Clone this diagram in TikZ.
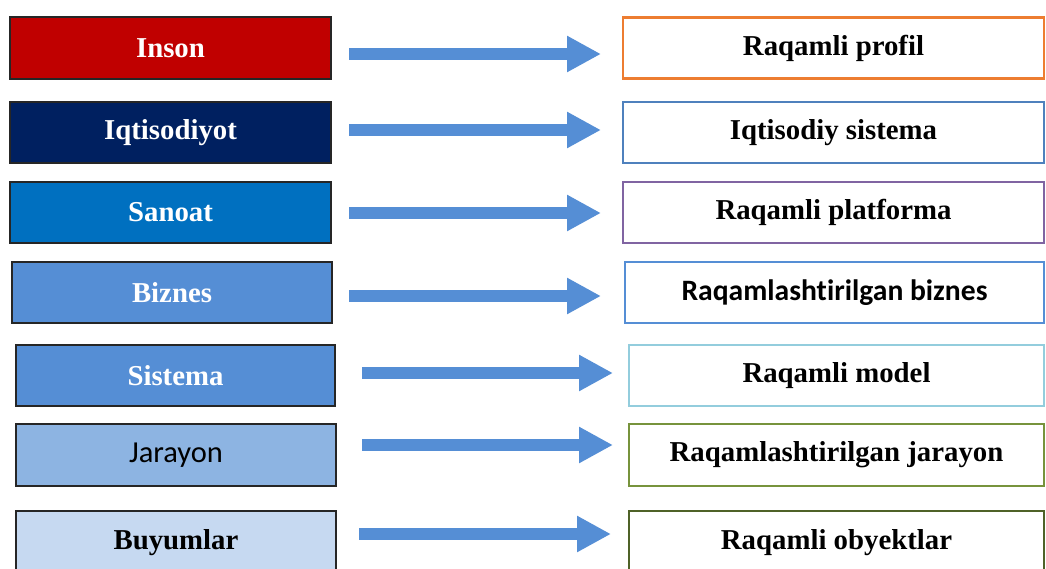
\documentclass[tikz,border=0pt]{standalone}
\usepackage{fontspec}
\setmainfont{Liberation Serif}
\newfontfamily\calibri[Ligatures=NoCommon]{Carlito}
\usetikzlibrary{arrows.meta}
\definecolor{cInson}{HTML}{C00000}
\definecolor{cIqt}{HTML}{002060}
\definecolor{cSan}{HTML}{0070C0}
\definecolor{cBiz}{HTML}{558ED5}
\definecolor{cJar}{HTML}{8DB4E2}
\definecolor{cBuy}{HTML}{C6D9F1}
\definecolor{bOrange}{HTML}{ED7D31}
\definecolor{bBlue}{HTML}{4F81BD}
\definecolor{bPurple}{HTML}{8064A2}
\definecolor{bBlue2}{HTML}{558ED5}
\definecolor{bCyan}{HTML}{93CDDD}
\definecolor{bGreen}{HTML}{77933C}
\definecolor{bDark}{HTML}{4F6228}
\definecolor{arrc}{HTML}{558ED5}
\tikzset{
  lbox/.style={draw=black!85, line width=1.3pt, inner sep=0pt, outer sep=0pt,
    font=\fontsize{28.8}{30}\selectfont\bfseries, text=white},
  rbox/.style={draw, fill=white, line width=2.6pt, inner sep=0pt, outer sep=0pt,
    font=\fontsize{28.8}{30}\selectfont\bfseries, text=black},
  arr/.style={draw=arrc, line width=12pt, -{Triangle[length=34pt,width=34pt]}}
}
\begin{document}
\begin{tikzpicture}[x=1pt,y=-1pt]
\useasboundingbox (0,0) rectangle (1046,568);
\clip (0,0) rectangle (1046,568);
\fill[white] (0,0) rectangle (1046,568);
% left boxes
\node[lbox, fill=cInson, minimum width=321pt, minimum height=62pt] (L1) at (170.5,48) {Inson};
\node[lbox, fill=cIqt, minimum width=321pt, minimum height=61pt] (L2) at (170.5,132.5) {Iqtisodiyot};
\node[lbox, fill=cSan, minimum width=321pt, minimum height=61pt] (L3) at (170.5,212.5) {Sanoat};
\node[lbox, fill=cBiz, minimum width=320pt, minimum height=61pt] (L4) at (172,292.5) {Biznes};
\node[lbox, fill=cBiz, minimum width=319pt, minimum height=61pt] (L5) at (175.5,375.5) {Sistema};
\node[lbox, fill=cJar, minimum width=320pt, minimum height=62pt, text=black, font=\fontsize{30.5}{32}\selectfont\calibri] (L6) at (176,455) {Jarayon};
\node[lbox, fill=cBuy, minimum width=320pt, minimum height=64pt, text=black] (L7) at (176,543) {Buyumlar};
% right boxes
\node[rbox, draw=bOrange, minimum width=421pt, minimum height=61pt] (R1) at (833.5,48) {Raqamli profil};
\node[rbox, draw=bBlue, minimum width=421pt, minimum height=61pt] (R2) at (833.5,132.5) {Iqtisodiy sistema};
\node[rbox, draw=bPurple, minimum width=421pt, minimum height=61pt] (R3) at (833.5,212.5) {Raqamli platforma};
\node[rbox, draw=bBlue2, minimum width=419pt, minimum height=61pt, font=\fontsize{29.6}{31}\selectfont\calibri\bfseries] (R4) at (834.5,292.5) {Raqamlashtirilgan biznes};
\node[rbox, draw=bCyan, minimum width=415pt, minimum height=61pt] (R5) at (836.5,375.5) {Raqamli model};
\node[rbox, draw=bGreen, minimum width=415pt, minimum height=62pt] (R6) at (836.5,455) {Raqamlashtirilgan jarayon};
\node[rbox, draw=bDark, minimum width=415pt, minimum height=64pt] (R7) at (836.5,543) {Raqamli obyektlar};
% arrows (canvas yshift: negative moves down)
\draw[arr] ([xshift=18pt,yshift=-6pt]L1.east) -- ([xshift=-22pt,yshift=-6pt]R1.west);
\draw[arr] ([xshift=18pt,yshift=2.5pt]L2.east) -- ([xshift=-22pt,yshift=2.5pt]R2.west);
\draw[arr] ([xshift=18pt,yshift=-0.5pt]L3.east) -- ([xshift=-22pt,yshift=-0.5pt]R3.west);
\draw[arr] ([xshift=17pt,yshift=-3.5pt]L4.east) -- ([xshift=-24pt,yshift=-3.5pt]R4.west);
\draw[arr] ([xshift=27pt,yshift=2.5pt]L5.east) -- ([xshift=-16pt,yshift=2.5pt]R5.west);
\draw[arr] ([xshift=26pt,yshift=10pt]L6.east) -- ([xshift=-16pt,yshift=10pt]R6.west);
\draw[arr] ([xshift=23pt,yshift=9pt]L7.east) -- ([xshift=-18pt,yshift=9pt]R7.west);
\end{tikzpicture}
\end{document}
